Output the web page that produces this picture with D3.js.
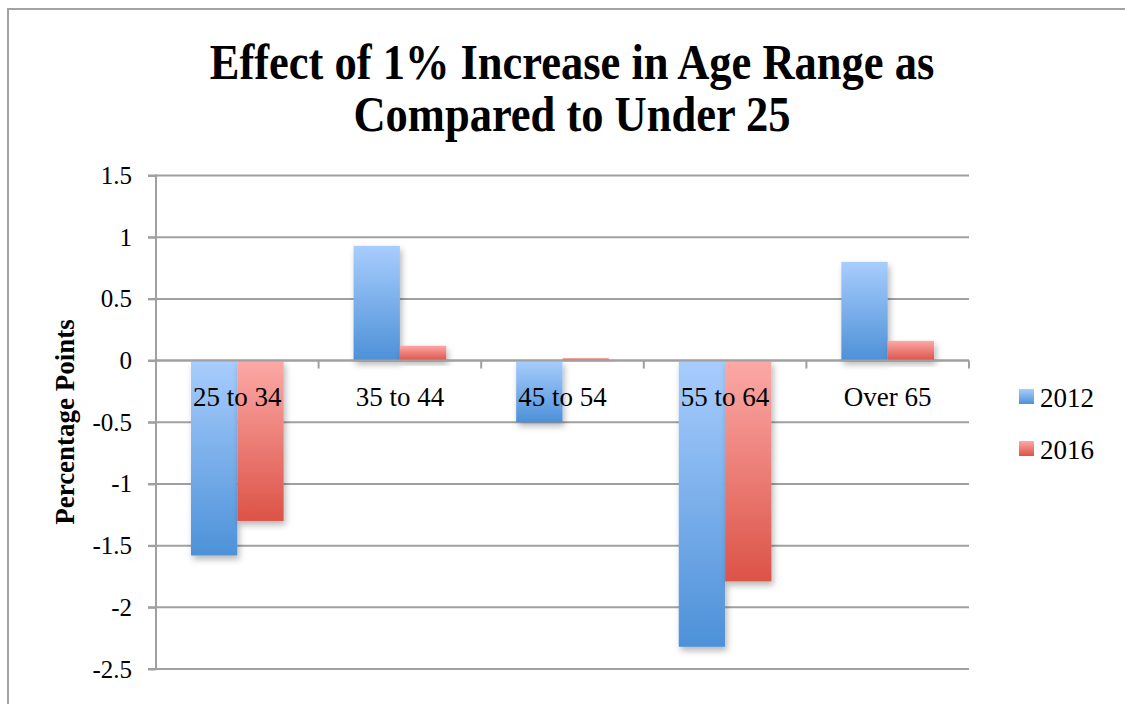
<!DOCTYPE html>
<html>
<head>
<meta charset="utf-8">
<script src="https://cdn.jsdelivr.net/npm/d3@7"></script>
<style>
  html, body { margin: 0; padding: 0; background: #fff; }
  svg { display: block; }
  text { font-family: "Liberation Serif", "Times New Roman", serif; fill: #000; }
</style>
</head>
<body>
<svg id="chart" width="1125" height="704"></svg>
<script>
// Age-range effects (percentage points) relative to the under-25 group
const categories = ["25 to 34", "35 to 44", "45 to 54", "55 to 64", "Over 65"];
const seriesNames = ["2012", "2016"];
const values2012 = [-1.58, 0.93, -0.50, -2.32, 0.80];
const values2016 = [-1.30, 0.12, 0.02, -1.79, 0.16];
const yTicks = [1.5, 1, 0.5, 0, -0.5, -1, -1.5, -2, -2.5];
const titleLines = ["Effect of 1% Increase in Age Range as", "Compared to Under 25"];
const yTitle = "Percentage Points";

const seriesValues = [values2012, values2016];
const colors = [
  { top: "#a8cdfd", bottom: "#4d91d8" },
  { top: "#fca9a6", bottom: "#dc5347" }
];

const svg = d3.select("#chart");
const W = 1125, H = 704;
const plot = { left: 156, right: 969, top: 175.5, bottom: 669 };

// outer frame
svg.append("path")
  .attr("d", `M8,${H} L8,9 L${W},9`)
  .attr("fill", "none").attr("stroke", "#a3a3a3").attr("stroke-width", 2);

// gradients and shadow
const defs = svg.append("defs");
colors.forEach((c, i) => {
  const g = defs.append("linearGradient").attr("id", "grad" + i)
    .attr("x1", 0).attr("y1", 0).attr("x2", 0).attr("y2", 1);
  g.append("stop").attr("offset", "0%").attr("stop-color", c.top);
  g.append("stop").attr("offset", "100%").attr("stop-color", c.bottom);
});
const f = defs.append("filter").attr("id", "shadow")
  .attr("x", "-20%").attr("y", "-20%").attr("width", "150%").attr("height", "150%");
f.append("feDropShadow").attr("dx", 2).attr("dy", 4).attr("stdDeviation", 3)
  .attr("flood-color", "#000").attr("flood-opacity", 0.28);

// scales
const y = d3.scaleLinear().domain([-2.5, 1.5]).range([plot.bottom, plot.top]);
const x0 = d3.scaleBand().domain(categories).range([plot.left, plot.right])
  .paddingInner(0.43).paddingOuter(0.215);
const x1 = d3.scaleBand().domain(seriesNames).range([0, x0.bandwidth()]).padding(0);

// gridlines
svg.append("g").selectAll("line").data(yTicks).join("line")
  .attr("x1", plot.left - 8).attr("x2", plot.right)
  .attr("y1", d => y(d)).attr("y2", d => y(d))
  .attr("stroke", "#a0a0a0").attr("stroke-width", 2);

// y axis labels via d3 axis
const yAxis = svg.append("g").attr("transform", `translate(${plot.left},0)`)
  .call(d3.axisLeft(y).tickValues(yTicks).tickFormat(d => String(d)).tickSize(8).tickPadding(16));
yAxis.select(".domain").remove();
yAxis.selectAll(".tick line").attr("stroke", "#a0a0a0").attr("stroke-width", 2);
yAxis.selectAll(".tick text")
  .style("font-family", '"Liberation Serif", serif').style("font-size", "25px").attr("fill", "#000");

// bars
const groups = svg.append("g").selectAll("g").data(categories).join("g")
  .attr("transform", d => `translate(${x0(d)},0)`);
groups.selectAll("rect")
  .data((d, i) => seriesNames.map((s, k) => ({ s, k, v: seriesValues[k][i] })))
  .join("rect")
  .attr("x", d => x1(d.s))
  .attr("width", x1.bandwidth())
  .attr("y", d => Math.min(y(d.v), y(0)))
  .attr("height", d => Math.abs(y(d.v) - y(0)))
  .attr("fill", d => `url(#grad${d.k})`)
  .attr("filter", "url(#shadow)");

// vertical axis line
svg.append("line")
  .attr("x1", plot.left).attr("x2", plot.left)
  .attr("y1", plot.top - 1).attr("y2", plot.bottom + 1)
  .attr("stroke", "#a0a0a0").attr("stroke-width", 2);

// zero line with category ticks
svg.append("line")
  .attr("x1", plot.left).attr("x2", plot.right)
  .attr("y1", y(0)).attr("y2", y(0))
  .attr("stroke", "#a0a0a0").attr("stroke-width", 2);
const step = (plot.right - plot.left) / categories.length;
svg.append("g").selectAll("line").data(d3.range(1, categories.length + 1)).join("line")
  .attr("x1", d => plot.left + d * step).attr("x2", d => plot.left + d * step)
  .attr("y1", y(0)).attr("y2", y(0) + 8)
  .attr("stroke", "#a0a0a0").attr("stroke-width", 2);

// category labels
svg.append("g").selectAll("text").data(categories).join("text")
  .attr("x", d => x0(d) + x0.bandwidth() / 2)
  .attr("y", y(0) + 45)
  .attr("text-anchor", "middle")
  .style("font-size", "27px")
  .text(d => d);

// title
const title = svg.append("g").attr("transform", "translate(572,0) scale(0.89,1)");
title.selectAll("text").data(titleLines).join("text")
  .attr("x", 0).attr("y", (d, i) => 79 + i * 52)
  .attr("text-anchor", "middle")
  .style("font-size", "50px").style("font-weight", "bold")
  .text(d => d);

// y axis title
svg.append("text")
  .attr("transform", "translate(74,422) rotate(-90)")
  .attr("text-anchor", "middle")
  .style("font-size", "27px").style("font-weight", "bold")
  .text(yTitle);

// legend
const legend = svg.append("g").selectAll("g").data(seriesNames).join("g")
  .attr("transform", (d, i) => `translate(1019,${389 + i * 52})`);
legend.append("rect").attr("width", 15).attr("height", 15)
  .attr("fill", (d, i) => `url(#grad${i})`);
legend.append("text").attr("x", 21).attr("y", 18)
  .style("font-size", "27px").text(d => d);
</script>
</body>
</html>
